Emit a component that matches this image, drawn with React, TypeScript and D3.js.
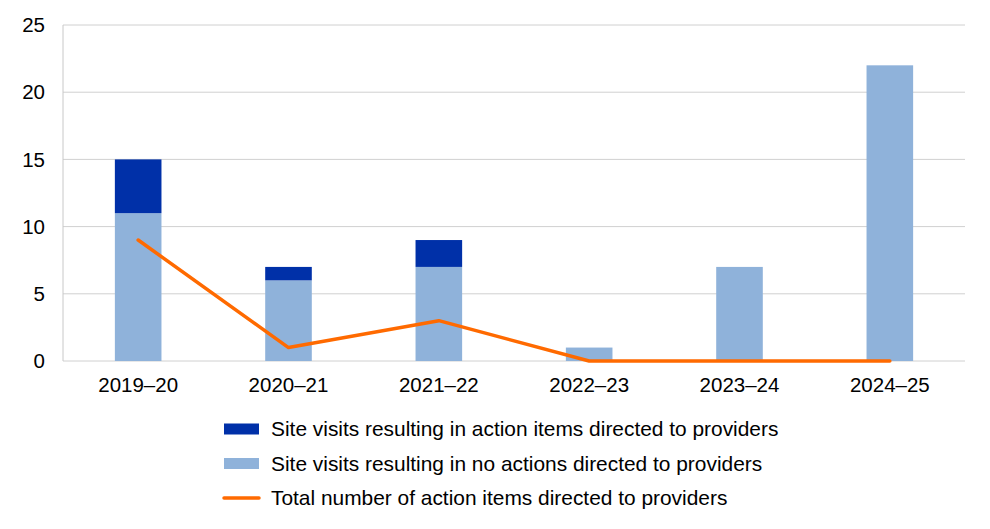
import * as d3 from "d3";

const categories = ["2019–20", "2020–21", "2021–22", "2022–23", "2023–24", "2024–25"];
const noActions = [11, 6, 7, 1, 7, 22];
const actionItems = [4, 1, 2, 0, 0, 0];
const totalActions = [9, 1, 3, 0, 0, 0];
const yTicks = [0, 5, 10, 15, 20, 25];

const legendItems = [
  { label: "Site visits resulting in action items directed to providers", color: "#0030A8", kind: "bar" },
  { label: "Site visits resulting in no actions directed to providers", color: "#8FB2DA", kind: "bar" },
  { label: "Total number of action items directed to providers", color: "#FF6A00", kind: "line" },
];

const width = 990;
const height = 529;
const margin = { top: 25, right: 25, bottom: 168, left: 63 };
const font = "'Liberation Sans', Arial, sans-serif";

export default function App() {
  const x = d3
    .scaleBand<string>()
    .domain(categories)
    .range([margin.left, width - margin.right])
    .paddingInner(0.69)
    .paddingOuter(0.345);
  const y = d3
    .scaleLinear()
    .domain([0, 25])
    .range([height - margin.bottom, margin.top]);

  const cx = (c: string) => (x(c) ?? 0) + x.bandwidth() / 2;

  const line = d3
    .line<number>()
    .x((_, i) => cx(categories[i]))
    .y((d) => y(d));

  return (
    <svg
      width={width}
      height={height}
      style={{ position: "absolute", left: 0, top: 0, background: "#fff" }}
      fontFamily={font}
    >
      {yTicks.map((t) => (
        <g key={t}>
          <line
            x1={margin.left}
            x2={width - margin.right}
            y1={y(t)}
            y2={y(t)}
            stroke="#D0D0D0"
            strokeWidth={1}
          />
          <text x={45} y={y(t)} dy="0.35em" textAnchor="end" fontSize={20.5} fill="#000">
            {t}
          </text>
        </g>
      ))}
      <line
        x1={margin.left}
        x2={margin.left}
        y1={y(25)}
        y2={y(0)}
        stroke="#C8C8C8"
        strokeWidth={1}
      />
      {categories.map((c, i) => (
        <g key={c}>
          <rect
            x={x(c)}
            width={x.bandwidth()}
            y={y(noActions[i])}
            height={y(0) - y(noActions[i])}
            fill="#8FB2DA"
          />
          {actionItems[i] > 0 && (
            <rect
              x={x(c)}
              width={x.bandwidth()}
              y={y(noActions[i] + actionItems[i])}
              height={y(noActions[i]) - y(noActions[i] + actionItems[i])}
              fill="#0030A8"
            />
          )}
          <text x={cx(c)} y={392} textAnchor="middle" fontSize={20.5} fill="#000">
            {c}
          </text>
        </g>
      ))}
      <path
        d={line(totalActions) ?? ""}
        fill="none"
        stroke="#FF6A00"
        strokeWidth={3.5}
        strokeLinejoin="round"
        strokeLinecap="round"
      />
      {legendItems.map((item, i) => {
        const ly = 429 + i * 34.5;
        return (
          <g key={item.label}>
            {item.kind === "bar" ? (
              <rect x={224} y={ly - 5.5} width={35} height={11} fill={item.color} />
            ) : (
              <line
                x1={224}
                x2={259}
                y1={ly}
                y2={ly}
                stroke={item.color}
                strokeWidth={3.5}
                strokeLinecap="round"
              />
            )}
            <text x={271} y={ly} dy="0.35em" fontSize={20.9} fill="#000">
              {item.label}
            </text>
          </g>
        );
      })}
    </svg>
  );
}
